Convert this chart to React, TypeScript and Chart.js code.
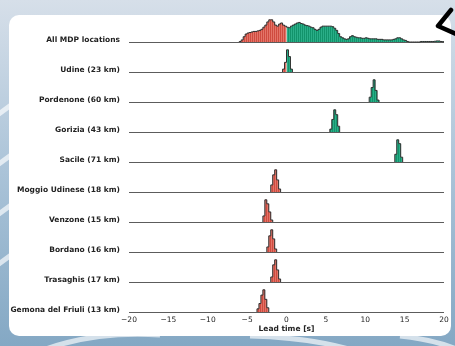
import { useEffect, useRef } from 'react';
import { Chart, registerables } from 'chart.js';

Chart.register(...registerables);

const rowLabels = [
  'All MDP locations',
  'Udine (23 km)',
  'Pordenone (60 km)',
  'Gorizia (43 km)',
  'Sacile (71 km)',
  'Moggio Udinese (18 km)',
  'Venzone (15 km)',
  'Bordano (16 km)',
  'Trasaghis (17 km)',
  'Gemona del Friuli (13 km)',
];

const binWidth = 0.25;
const rowStarts = [-6, -0.5, 10.5, 5.5, 13.75, -2, -3, -2.5, -2, -3.75];

const allMdpCounts = [
  0.5, 2, 5, 7.5, 8.5, 9, 9.5, 10, 10, 10.5, 11, 12, 14, 16, 19, 21, 21, 19, 16, 15, 17, 18, 16, 15,
  14, 13.5, 15, 16, 17, 18, 18.5, 17.5, 17, 16, 15.5, 15, 14, 13.5, 12, 11, 12, 14, 15, 15, 15, 15,
  15, 14.5, 13, 11, 8, 5, 4, 3, 2.5, 3, 5, 6, 5, 4.5, 4, 4, 3.5, 3.5, 4, 3.5, 3, 3, 3, 3, 2.5, 2.5,
  2.5, 2, 2, 2, 2, 2, 2.5, 3, 4, 4, 3, 2, 1.5, 0.5, 0, 0, 0, 0, 0, 0, 0.5, 0.5, 0.5, 0.5, 0.5, 0.5,
  0.5, 0.7, 1, 1, 0.5, 0.3,
];
const udineCounts = [3, 10, 23, 16, 3];
const pordenoneCounts = [5, 15, 23, 12, 2];
const goriziaCounts = [3, 13, 23, 18, 6];
const sacileCounts = [8, 23, 19, 5];
const moggioCounts = [7, 17, 22, 12, 3];
const venzoneCounts = [6, 22, 18, 10, 2];
const bordanoCounts = [5, 16, 22, 13, 3];
const trasaghisCounts = [5, 17, 22, 12, 3];
const gemonaCounts = [3, 8, 16, 21, 12, 4];

const rowCounts = [
  allMdpCounts, udineCounts, pordenoneCounts, goriziaCounts, sacileCounts,
  moggioCounts, venzoneCounts, bordanoCounts, trasaghisCounts, gemonaCounts,
];

const xTicks = [-20, -15, -10, -5, 0, 5, 10, 15, 20];

const FONT = "'DejaVu Sans', sans-serif";
const PEAK = 0.74;

type Pt = { x: number; y: number };

function stepPoints(edges: number[], heights: number[], base: number): Pt[] {
  const pts: Pt[] = [];
  if (!edges.length) return pts;
  pts.push({ x: edges[0], y: base });
  for (let j = 0; j < edges.length; j++) pts.push({ x: edges[j], y: base + heights[j] });
  const end = edges[edges.length - 1] + binWidth;
  pts.push({ x: end, y: base + heights[heights.length - 1] });
  pts.push({ x: end, y: base });
  return pts;
}

function makePattern(ctx: CanvasRenderingContext2D, a: string, b: string) {
  const c = document.createElement('canvas');
  c.width = 2;
  c.height = 1;
  const cx = c.getContext('2d')!;
  cx.fillStyle = a;
  cx.fillRect(0, 0, 1, 1);
  cx.fillStyle = b;
  cx.fillRect(1, 0, 1, 1);
  return ctx.createPattern(c, 'repeat')!;
}

const bgPlugin = {
  id: 'bgPanel',
  beforeDraw(chart: any) {
    const ctx: CanvasRenderingContext2D = chart.ctx;
    const w = chart.width;
    const h = chart.height;
    ctx.save();
    const g = ctx.createLinearGradient(0, 0, 0, h);
    g.addColorStop(0, '#d6dfe9');
    g.addColorStop(0.5, '#aac3d8');
    g.addColorStop(1, '#84a8c4');
    ctx.fillStyle = g;
    ctx.fillRect(0, 0, w, h);
    ctx.strokeStyle = 'rgba(255,255,255,0.65)';
    ctx.lineWidth = 5;
    const curves = [
      [-10, 120, 20, 100, 40, 80],
      [-10, 170, 20, 150, 40, 130],
      [-10, 220, 20, 200, 40, 180],
      [-10, 270, 20, 250, 40, 230],
      [20, 360, 80, 330, 160, 335],
      [250, 336, 330, 338, 380, 360],
      [400, 336, 440, 340, 470, 355],
    ];
    for (const c of curves) {
      ctx.beginPath();
      ctx.moveTo(c[0], c[1]);
      ctx.quadraticCurveTo(c[2], c[3], c[4], c[5]);
      ctx.stroke();
    }
    ctx.fillStyle = '#ffffff';
    ctx.beginPath();
    (ctx as any).roundRect(9, 15, 442, 321, 10);
    ctx.fill();
    ctx.strokeStyle = '#000000';
    ctx.lineWidth = 4.5;
    ctx.lineCap = 'round';
    ctx.lineJoin = 'round';
    ctx.beginPath();
    ctx.moveTo(451, 10);
    ctx.lineTo(438, 26);
    ctx.lineTo(456, 34);
    ctx.stroke();
    ctx.restore();
  },
};

export default function App() {
  const ref = useRef<HTMLCanvasElement | null>(null);

  useEffect(() => {
    const canvas = ref.current!;
    const ctx = canvas.getContext('2d')!;
    const redFill = makePattern(ctx, '#cf4b3f', '#e37468');
    const greenFill = makePattern(ctx, '#12936b', '#2aae88');
    const n = rowLabels.length;
    const datasets: any[] = [];
    rowCounts.forEach((counts, i) => {
      const base = n - 1 - i;
      const mx = Math.max(...counts);
      const heights = counts.map((v) => (v / mx) * PEAK);
      const edges = counts.map((_, j) => rowStarts[i] + j * binWidth);
      const negE: number[] = [], negH: number[] = [], posE: number[] = [], posH: number[] = [];
      edges.forEach((e, j) => {
        if (e < 0) { negE.push(e); negH.push(heights[j]); }
        else { posE.push(e); posH.push(heights[j]); }
      });
      const common = {
        stepped: 'before',
        pointRadius: 0,
        pointHitRadius: 0,
        tension: 0,
      };
      if (negE.length)
        datasets.push({ ...common, data: stepPoints(negE, negH, base), borderWidth: 0, borderColor: 'rgba(0,0,0,0)', backgroundColor: redFill, fill: { value: base }, order: 1 });
      if (posE.length)
        datasets.push({ ...common, data: stepPoints(posE, posH, base), borderWidth: 0, borderColor: 'rgba(0,0,0,0)', backgroundColor: greenFill, fill: { value: base }, order: 1 });
      datasets.push({ ...common, data: stepPoints(edges, heights, base), borderWidth: 1, borderColor: '#2e2e2e', fill: false, order: 0 });
    });

    const chart = new Chart(canvas, {
      type: 'line',
      data: { datasets },
      plugins: [bgPlugin],
      options: {
        animation: false,
        responsive: false,
        maintainAspectRatio: false,
        layout: { padding: { top: 15, right: 11, left: 0, bottom: 0 } },
        plugins: { legend: { display: false }, tooltip: { enabled: false } },
        scales: {
          x: {
            type: 'linear',
            min: -20,
            max: 20,
            afterBuildTicks: (s: any) => { s.ticks = xTicks.map((v) => ({ value: v })); },
            afterFit: (s: any) => { s.height = 34; },
            grid: { display: false, drawTicks: false },
            border: { display: false },
            ticks: {
              padding: 4,
              color: '#222',
              font: { family: FONT, size: 7.5 },
              callback: (v: any) => (v < 0 ? '\u2212' + Math.abs(v) : String(v)),
            },
            title: {
              display: true,
              text: 'Lead time [s]',
              color: '#222',
              font: { family: FONT, size: 7.5, weight: 'bold' },
              padding: { top: 0, bottom: 12.5 },
            },
          },
          y: {
            type: 'linear',
            min: 0,
            max: 9.9,
            afterBuildTicks: (s: any) => { s.ticks = rowLabels.map((_, i) => ({ value: i })); },
            afterFit: (s: any) => { s.width = 129; },
            grid: { color: '#5c5c5c', lineWidth: 1, drawTicks: false },
            border: { display: false },
            ticks: {
              padding: 9,
              autoSkip: false,
              labelOffset: -2,
              color: '#222',
              font: { family: FONT, size: 7.5, weight: 'bold' },
              callback: (v: any) => rowLabels[n - 1 - Number(v)],
            },
          },
        },
      } as any,
    });
    return () => chart.destroy();
  }, []);

  return (
    <div style={{ position: 'fixed', left: 0, top: 0, width: 455, height: 346 }}>
      <canvas ref={ref} width={455} height={346} style={{ display: 'block', width: 455, height: 346 }} />
    </div>
  );
}
